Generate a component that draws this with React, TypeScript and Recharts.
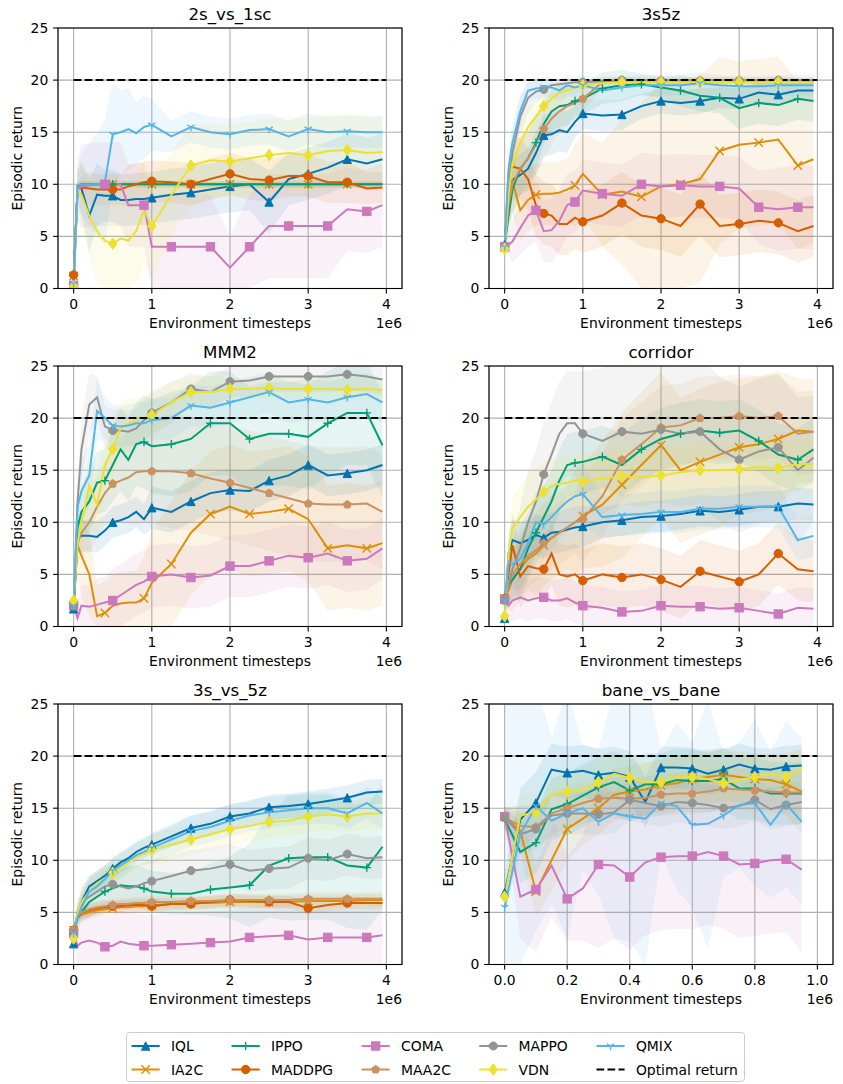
import React from 'react';
import { ComposedChart, Line, Area, XAxis, YAxis, CartesianGrid, ReferenceLine } from 'recharts';

const FONT = "'DejaVu Sans', sans-serif";

const COLORS: Record<string, string> = {
  IQL: '#0173b2', IA2C: '#de8f05', IPPO: '#029e73', MADDPG: '#d55e00', COMA: '#cc78bc',
  MAA2C: '#ca9161', MAPPO: '#949494', VDN: '#ece133', QMIX: '#56b4e9',
};
const SHAPES: Record<string, string> = {
  IQL: 'tri', IA2C: 'x', IPPO: 'plus', MADDPG: 'circle', COMA: 'square',
  MAA2C: 'pentagon', MAPPO: 'octagon', VDN: 'diamond', QMIX: 'tridown',
};

// x grids (timesteps, in units of 1e6)
const X_LONG = [0, 0.05, 0.1, 0.2, 0.3, 0.4, 0.5, 0.6, 0.7, 0.8, 0.9, 1, 1.25, 1.5, 1.75, 2, 2.25, 2.5, 2.75, 3, 3.25, 3.5, 3.75, 3.95];
const X_SHORT = [0, 0.05, 0.1, 0.15, 0.2, 0.25, 0.3, 0.35, 0.4, 0.45, 0.5, 0.55, 0.6, 0.65, 0.7, 0.75, 0.8, 0.85, 0.9, 0.95];
const TICKS_LONG = [0, 1, 2, 3, 4];
const TICKS_SHORT = [0, 0.2, 0.4, 0.6, 0.8, 1.0];
const Y_TICKS = [0, 5, 10, 15, 20, 25];
const OPTIMAL = 20;
const MARKS_HALF = [0, 0.5, 1, 1.5, 2, 2.5, 3, 3.5];
const MARKS_ALT = [0, 0.4, 0.9, 1.25, 1.75, 2.25, 2.75, 3.25, 3.75];
const MARKS_TENTH = [0, 0.1, 0.2, 0.3, 0.4, 0.5, 0.6, 0.7, 0.8, 0.9];

// ---------- 2s_vs_1sc ----------
const a_IQL = [0.3, 9.8, 9.6, 7.0, 9.0, 8.9, 8.9, 8.5, 8.5, 8.6, 8.6, 8.7, 9.0, 9.2, 9.5, 9.8, 10.0, 8.3, 10.5, 11.0, 11.6, 12.4, 12.0, 12.4];
const a_IQL_sd = [0.5, 1.5, 2.5, 3.5, 3, 2.5, 2.5, 2.5, 2.5, 2.5, 2.5, 2.5, 2.5, 2.5, 2.5, 2.5, 2.5, 3, 2.5, 2.5, 2.5, 2.5, 2.5, 2.5];
const a_IA2C = [1.2, 9.5, 10, 10, 10, 10, 10, 10, 10, 10, 10, 10, 10, 10, 10, 10, 10, 10, 10, 10, 10, 10, 10, 10];
const a_IA2C_sd = [0.5, 0.5, 0.3, 0.3, 0.3, 0.3, 0.3, 0.3, 0.3, 0.3, 0.3, 0.3, 0.3, 0.3, 0.3, 0.3, 0.3, 0.3, 0.3, 0.3, 0.3, 0.3, 0.3, 0.3];
const a_IPPO = [0.5, 9.8, 10, 10, 10, 10, 10, 10, 10, 10, 10, 10, 10, 10, 10, 10, 10, 10, 10, 10, 10, 10, 10, 10];
const a_IPPO_sd = [0.5, 0.5, 0.3, 0.3, 0.3, 0.3, 0.3, 0.3, 0.3, 0.3, 0.3, 0.3, 0.3, 0.3, 0.3, 0.3, 0.3, 0.3, 0.3, 0.3, 0.3, 0.3, 0.3, 0.3];
const a_MADDPG = [1.3, 9.6, 9.7, 9.6, 9.5, 9.5, 9.5, 9.5, 9.8, 10.0, 10.2, 10.3, 10.2, 10.0, 10.5, 11.0, 10.5, 10.4, 10.8, 10.8, 10.2, 10.2, 9.6, 9.7];
const a_MADDPG_sd = [0.5, 0.5, 1, 1.5, 1.5, 1.5, 1.5, 1.5, 2, 2, 2, 2, 2, 2, 2, 2, 2, 2, 2, 2, 2, 2, 1.5, 1.5];
const a_COMA = [0.3, 9.5, 9.8, 9.9, 10, 10, 10, 10, 8.0, 8.0, 8.0, 4.0, 4.0, 4.0, 4.0, 2.0, 4.0, 6.0, 6.0, 6.0, 6.0, 7.6, 7.4, 8.0];
const a_COMA_sd = [0.5, 3, 4, 4, 4, 4, 4, 4, 4, 4, 4, 5, 5, 5, 5, 3, 5, 5, 5, 5, 5, 4, 4, 4];
const a_VDN = [0.2, 9.5, 9.0, 7.0, 5.5, 4.6, 4.3, 4.8, 4.6, 5.5, 7.5, 6.0, 9.0, 11.8, 12.3, 12.2, 12.5, 12.8, 13.0, 12.8, 13.2, 13.3, 13.0, 13.1];
const a_VDN_sd = [0.5, 2, 3, 4, 5, 5, 5, 5, 5, 5, 5, 5, 4, 4, 3.5, 3.5, 3.5, 3.5, 3.5, 3.5, 3.5, 3.5, 3.5, 3.5];
const a_QMIX = [0.5, 9.8, 10, 10, 10, 10.2, 14.8, 15.0, 15.3, 14.9, 15.5, 15.7, 14.6, 15.5, 15.0, 14.8, 15.2, 15.3, 14.6, 15.3, 15.0, 15.1, 15.0, 15.0];
const a_QMIX_sd = [0.5, 2, 3, 4, 5, 6, 5, 4, 4, 3, 3, 2.5, 1.5, 1.5, 1.5, 1.5, 1.5, 1.5, 1.5, 1.5, 1.5, 1.5, 1.5, 1.5];

// ---------- 3s5z ----------
const b_IQL = [4.2, 9.5, 10.4, 10.9, 11.5, 13.0, 14.7, 14.8, 15.2, 15.0, 16.0, 16.8, 16.6, 16.7, 17.5, 18.0, 17.8, 18.0, 18.3, 18.2, 18.8, 18.6, 19.0, 19.0];
const b_IQL_sd = [0.3, 1.5, 2, 2, 2, 2, 2, 2, 2, 2, 1.5, 1.5, 1.5, 1.5, 1.2, 1.2, 1.2, 1.2, 1, 1, 1, 1, 1, 1];
const b_IA2C = [4.0, 9.0, 10.3, 7.5, 8.5, 9.0, 9.1, 9.1, 9.2, 9.5, 9.9, 11.0, 9.0, 9.3, 8.8, 9.8, 10.0, 10.5, 13.2, 13.8, 14.0, 14.3, 11.8, 12.4];
const b_IA2C_sd = [0.3, 3, 3, 3, 3, 3, 3, 3, 3, 3, 4, 4, 5, 7, 9, 10, 10, 10, 9, 8, 8, 8, 8, 8];
const b_IPPO = [4.1, 7.0, 9.5, 11.5, 12.5, 14.0, 15.8, 17.0, 17.5, 17.6, 18.0, 18.2, 19.2, 19.5, 19.6, 19.3, 19.0, 18.5, 18.3, 17.3, 17.8, 17.6, 18.2, 18.0];
const b_IPPO_sd = [0.3, 2, 2.5, 2.5, 2.5, 2.5, 2, 2, 2, 2, 1.5, 1.5, 1.5, 1.5, 1, 1, 1.5, 1.5, 1.5, 2, 2, 2, 2, 2];
const b_MADDPG = [4.0, 11.0, 11.7, 11.5, 10.5, 8.0, 7.2, 7.0, 6.2, 6.2, 6.8, 6.4, 7.0, 8.2, 7.0, 6.7, 6.0, 8.1, 6.0, 6.2, 6.5, 6.3, 5.5, 6.0];
const b_MADDPG_sd = [0.3, 2, 2.5, 3, 3, 3, 3, 3, 3, 3, 3, 3, 3, 3, 3, 3, 3, 3, 3, 3, 3, 3, 3, 3];
const b_COMA = [4.0, 4.2, 4.5, 5.8, 7.0, 7.5, 5.5, 5.6, 6.5, 8.0, 8.3, 9.4, 9.1, 8.9, 10.0, 9.8, 9.9, 9.8, 9.8, 9.6, 7.8, 7.6, 7.8, 7.8];
const b_COMA_sd = [0.3, 1, 2, 2.5, 3, 3, 3, 3, 3, 3, 3, 3, 3, 3, 3, 3, 3, 3, 3, 3, 3.5, 4, 4, 4];
const b_MAA2C = [4.0, 8.0, 10.0, 11.5, 12.5, 13.8, 15.3, 16.3, 17.0, 17.5, 17.8, 18.2, 19.8, 20.0, 20.0, 20.0, 20.0, 20.0, 20.0, 20.0, 20.0, 20.0, 20.0, 20.0];
const b_MAA2C_sd = [0.3, 2, 2.5, 3, 3, 3, 3, 2.5, 2, 2, 1.5, 1.2, 0.6, 0.3, 0.3, 0.3, 0.3, 0.3, 0.3, 0.3, 0.3, 0.3, 0.3, 0.3];
const b_MAPPO = [4.0, 10.0, 13.0, 16.5, 18.3, 18.9, 19.1, 19.5, 19.6, 19.7, 19.8, 19.8, 19.9, 20.0, 19.9, 19.9, 19.9, 19.9, 20.0, 19.9, 19.9, 20.0, 19.9, 19.9];
const b_MAPPO_sd = [0.3, 2, 2, 2, 1.5, 1, 0.8, 0.6, 0.5, 0.4, 0.3, 0.3, 0.3, 0.3, 0.3, 0.3, 0.3, 0.3, 0.3, 0.3, 0.3, 0.3, 0.3, 0.3];
const b_VDN = [3.8, 9.0, 12.0, 14.0, 15.5, 16.5, 17.5, 18.2, 18.8, 19.0, 19.3, 19.5, 19.7, 19.8, 19.8, 19.8, 19.8, 19.8, 19.8, 19.8, 19.8, 19.8, 19.8, 19.8];
const b_VDN_sd = [0.3, 2, 2, 2, 2, 1.5, 1.2, 1, 0.8, 0.6, 0.5, 0.4, 0.3, 0.3, 0.3, 0.3, 0.3, 0.3, 0.3, 0.3, 0.3, 0.3, 0.3, 0.3];
const b_QMIX = [4.0, 11.5, 14.0, 17.0, 19.0, 19.2, 19.3, 19.3, 19.0, 19.5, 19.3, 19.5, 19.0, 19.3, 19.5, 19.5, 19.5, 19.7, 19.5, 19.4, 19.4, 19.5, 19.5, 19.5];
const b_QMIX_sd = [0.3, 2, 2, 1.5, 1, 1, 1, 1, 1, 1, 1, 1, 1, 1, 1, 1, 1, 1, 1, 1, 1, 1, 1, 1];

// ---------- MMM2 ----------
const c_IQL = [1.7, 8.5, 8.7, 8.7, 8.6, 9.2, 10.0, 10.2, 10.5, 11.0, 10.3, 11.4, 11.0, 12.0, 12.8, 13.1, 13.0, 14.0, 14.5, 15.5, 14.5, 14.7, 15.0, 15.5];
const c_IQL_sd = [0.3, 1.5, 1.5, 1.5, 1.5, 1.5, 1.5, 1.5, 1.5, 1.5, 1.5, 2, 2, 2, 2, 2, 2, 2, 2, 2, 2, 2, 2, 2];
const c_IA2C = [2.0, 7.8, 6.8, 5.0, 1.0, 1.3, 2.0, 2.2, 2.3, 2.3, 2.7, 4.2, 6.0, 9.0, 10.8, 11.5, 10.8, 11.0, 11.3, 10.3, 7.5, 7.8, 7.5, 8.0];
const c_IA2C_sd = [0.5, 3, 4, 4, 3, 3, 3, 3, 3, 3, 4, 5, 6, 6, 6, 6, 6, 6, 6, 6, 6, 6, 6, 6];
const c_IPPO = [1.8, 9.5, 11.0, 12.0, 13.8, 14.0, 15.5, 17.0, 16.0, 17.5, 17.7, 17.3, 17.5, 18.0, 19.5, 19.5, 18.0, 18.5, 18.5, 18.2, 19.5, 20.5, 20.5, 17.4];
const c_IPPO_sd = [0.3, 2, 2.5, 3, 3, 3, 3.5, 4, 4, 4, 4.5, 4.5, 5, 5, 5, 5, 5, 5, 5, 5, 5, 5, 5, 5];
const c_COMA = [2.0, 0.8, 2.0, 1.9, 2.1, 2.3, 2.5, 3.0, 3.5, 4.0, 4.3, 4.8, 5.0, 4.7, 4.9, 5.8, 5.8, 6.3, 6.8, 6.6, 7.0, 6.3, 6.5, 7.5];
const c_COMA_sd = [0.5, 1.5, 2, 2, 2.5, 2.5, 3, 3, 3, 3, 3, 3, 3, 3, 3, 3, 3, 3, 3, 3, 3, 3, 3, 3];
const c_MAA2C = [2.0, 8.0, 9.0, 10.0, 11.5, 12.8, 13.7, 14.0, 14.3, 14.8, 14.9, 14.9, 14.9, 14.7, 14.2, 13.8, 13.3, 12.8, 12.3, 11.8, 11.7, 11.7, 11.8, 11.0];
const c_MAA2C_sd = [0.3, 2, 2, 3, 3, 3, 3.5, 4, 4.5, 5, 5, 5, 5.5, 5.5, 5.5, 5.5, 5.5, 5.5, 5.5, 5.5, 5.5, 5.5, 5.5, 5.5];
const c_MAPPO = [2.0, 12.0, 17.0, 21.3, 22.0, 19.2, 18.8, 18.8, 18.7, 19.0, 19.8, 20.5, 21.5, 22.8, 22.5, 23.5, 23.6, 24.0, 24.0, 24.0, 24.0, 24.2, 24.0, 23.7];
const c_MAPPO_sd = [0.3, 2, 3, 3, 2, 2, 2, 2, 2, 2, 2, 2, 2, 1.5, 1.5, 1.5, 1.5, 1.5, 1.5, 1.5, 1.5, 1.5, 1.5, 1.5];
const c_VDN = [2.5, 8.0, 10.0, 13.5, 11.7, 15.5, 17.0, 19.0, 19.5, 19.8, 20.0, 20.3, 21.5, 22.5, 22.5, 22.8, 22.8, 22.9, 22.8, 22.8, 22.8, 22.7, 22.8, 22.7];
const c_VDN_sd = [0.3, 2, 3, 3, 3, 3, 3, 2.5, 2.5, 2, 2, 2, 2, 1.5, 1.5, 1, 1, 1, 1, 1, 1, 1, 1, 1];
const c_QMIX = [2.0, 11.5, 13.0, 14.5, 20.7, 20.0, 19.3, 19.2, 19.3, 19.5, 19.5, 19.8, 20.0, 21.2, 21.0, 21.5, 22.0, 22.5, 21.5, 21.8, 21.5, 22.0, 22.3, 21.5];
const c_QMIX_sd = [0.3, 2, 3, 3, 3, 2, 2, 2, 2, 2, 2, 2, 2, 2, 2, 2, 2, 2, 2, 2, 2, 2, 2, 2];

// ---------- corridor ----------
const d_IQL = [0.8, 7.0, 8.3, 8.0, 8.3, 8.8, 8.5, 9.0, 9.1, 9.3, 9.5, 9.6, 10.0, 10.2, 10.5, 10.6, 10.8, 11.1, 11.0, 11.2, 11.5, 11.5, 11.8, 11.7];
const d_IQL_sd = [0.3, 2, 2, 2, 2, 2, 2, 2, 2, 2, 2, 2, 1.5, 1.5, 1.5, 1.5, 1.5, 1.5, 1.5, 1.5, 1.5, 1.5, 1.5, 1.5];
const d_IA2C = [2.7, 3.5, 4.5, 5.5, 6.5, 7.0, 7.8, 8.5, 9.0, 9.5, 10.0, 10.6, 11.7, 13.6, 15.5, 17.4, 15.0, 15.8, 16.5, 17.2, 17.5, 18.0, 18.8, 18.7];
const d_IA2C_sd = [0.5, 2, 3, 3, 3, 4, 4, 4, 4, 4, 5, 5, 6, 7, 7, 7, 7, 7, 7, 6.5, 6.5, 6.5, 5, 5];
const d_IPPO = [2.5, 4.0, 4.5, 5.5, 7.5, 9.0, 10.5, 12.0, 14.0, 15.5, 15.7, 15.8, 16.3, 15.5, 17.0, 18.0, 18.5, 18.8, 18.6, 18.8, 17.8, 16.5, 16.0, 17.0];
const d_IPPO_sd = [0.3, 2, 2, 3, 3, 3, 3, 3, 3, 3, 3, 3, 3, 3, 3, 3, 3, 3, 3, 3, 3, 3, 3, 3];
const d_MADDPG = [2.7, 5.0, 7.8, 4.8, 5.8, 5.6, 5.5, 7.0, 5.0, 4.8, 5.0, 4.4, 5.0, 4.7, 5.0, 4.5, 3.8, 5.3, 4.8, 4.3, 5.0, 7.0, 5.5, 5.3];
const d_MADDPG_sd = [0.3, 2, 3, 3, 3, 3, 3, 3, 3, 3, 3, 3, 3, 3, 3, 3, 3, 3, 3, 3, 3, 3, 3, 3];
const d_COMA = [2.6, 2.0, 2.5, 2.8, 2.5, 2.7, 2.8, 2.5, 2.5, 2.7, 2.3, 2.0, 1.8, 1.4, 1.5, 2.0, 1.9, 1.9, 1.7, 1.8, 1.5, 1.2, 1.8, 1.7];
const d_COMA_sd = [0.3, 1.5, 2, 2, 2, 2, 2, 2, 2, 2, 2, 2, 2, 2, 2, 2, 2, 2, 2, 2, 2, 2, 2, 2];
const d_MAA2C = [2.6, 4.0, 5.0, 6.0, 6.8, 7.3, 8.0, 8.5, 9.0, 9.5, 10.0, 10.3, 12.5, 16.0, 17.5, 19.1, 19.3, 20.0, 20.0, 20.2, 20.0, 20.2, 18.5, 18.7];
const d_MAA2C_sd = [0.3, 2, 2, 3, 3, 3, 3, 3, 3, 3, 3, 4, 4, 4, 4, 4, 4, 4, 4, 4, 4, 4, 4, 4];
const d_MAPPO = [2.5, 4.0, 5.5, 7.5, 10.0, 12.0, 14.6, 16.5, 18.5, 19.5, 19.5, 18.5, 17.8, 18.7, 18.5, 18.9, 18.5, 18.7, 17.0, 16.0, 16.8, 17.2, 15.0, 16.2];
const d_MAPPO_sd = [0.3, 2, 3, 4, 5, 5, 5, 5, 5, 5, 5, 6, 7, 7, 7, 7, 7, 7, 7, 7, 7, 7, 7, 6];
const d_VDN = [1.0, 7.0, 9.5, 10.5, 11.5, 12.2, 12.9, 13.5, 13.7, 13.8, 14.0, 13.9, 14.2, 14.4, 14.3, 14.5, 14.8, 15.0, 15.0, 15.1, 15.3, 15.2, 15.6, 15.6];
const d_VDN_sd = [0.3, 2, 3, 3, 3, 3, 3, 2.5, 2.5, 2.5, 2.5, 2.5, 2.5, 2.5, 2.5, 2.5, 2.5, 2.5, 2.5, 2.5, 2.5, 2.5, 2.5, 2.5];
const d_QMIX = [2.5, 6.2, 6.0, 6.5, 8.0, 10.0, 9.8, 10.5, 11.3, 12.0, 12.5, 12.7, 10.5, 10.7, 10.8, 11.0, 11.0, 11.3, 11.3, 11.5, 11.5, 11.5, 8.3, 8.7];
const d_QMIX_sd = [0.3, 2, 2.5, 3, 3, 3, 3, 3, 3, 3, 3, 3, 2, 2, 2, 2, 2, 2, 2, 2, 2, 2, 2, 2];

// ---------- 3s_vs_5z ----------
const e_IQL = [2.0, 5.0, 6.0, 7.5, 8.0, 8.5, 9.2, 9.8, 10.2, 10.8, 11.2, 11.5, 12.3, 13.1, 13.5, 14.2, 14.5, 15.1, 15.2, 15.4, 15.7, 16.0, 16.5, 16.6];
const e_IQL_sd = [0.3, 1, 1, 1, 1, 1, 1, 1, 1, 1, 1, 1, 1, 1.2, 1.2, 1.2, 1.2, 1.2, 1.2, 1.2, 1.2, 1.2, 1.2, 1.2];
const e_IA2C = [3.3, 4.5, 4.8, 5.0, 5.2, 5.3, 5.4, 5.5, 5.5, 5.6, 5.6, 5.7, 5.8, 5.9, 5.9, 6.0, 6.0, 6.0, 6.0, 6.1, 6.1, 6.1, 6.2, 6.2];
const e_IA2C_sd = [0.3, 0.5, 0.6, 0.6, 0.6, 0.6, 0.6, 0.6, 0.6, 0.6, 0.6, 0.6, 0.6, 0.6, 0.6, 0.6, 0.6, 0.6, 0.6, 0.6, 0.6, 0.6, 0.6, 0.6];
const e_IPPO = [3.2, 4.5, 5.0, 6.0, 6.5, 7.0, 7.3, 7.6, 7.5, 7.5, 7.3, 7.0, 6.8, 6.8, 7.2, 7.4, 7.6, 9.5, 10.2, 10.3, 10.3, 9.5, 9.3, 11.3];
const e_IPPO_sd = [0.3, 1, 1, 1.5, 1.5, 2, 2, 2, 2, 2, 2, 2, 2, 2, 2.5, 3, 4, 5, 6, 6, 6, 6, 6, 6];
const e_MADDPG = [3.3, 4.5, 5.0, 5.2, 5.4, 5.5, 5.6, 5.6, 5.7, 5.7, 5.7, 5.6, 5.8, 5.8, 6.0, 6.2, 6.1, 6.0, 6.0, 5.4, 5.7, 5.9, 5.9, 5.9];
const e_MADDPG_sd = [0.3, 0.5, 0.6, 0.6, 0.6, 0.6, 0.6, 0.6, 0.6, 0.6, 0.6, 0.6, 0.6, 0.6, 0.6, 0.6, 0.6, 0.6, 0.6, 0.6, 0.6, 0.6, 0.6, 0.6];
const e_COMA = [3.0, 1.8, 2.1, 2.3, 2.1, 1.7, 1.8, 2.2, 2.0, 1.9, 1.8, 1.8, 1.9, 2.0, 2.1, 2.2, 2.6, 2.7, 2.8, 2.4, 2.6, 2.6, 2.6, 2.8];
const e_COMA_sd = [0.5, 2, 3, 3, 3, 3, 3, 3, 3, 3, 3, 3, 3, 3, 3, 3, 3, 3, 3, 3, 3, 3, 3, 3];
const e_MAA2C = [3.3, 4.7, 5.0, 5.3, 5.5, 5.6, 5.7, 5.8, 5.8, 5.9, 5.9, 6.0, 6.0, 6.1, 6.1, 6.2, 6.2, 6.2, 6.2, 6.3, 6.3, 6.3, 6.3, 6.3];
const e_MAA2C_sd = [0.3, 0.5, 0.6, 0.6, 0.6, 0.6, 0.6, 0.6, 0.6, 0.6, 0.6, 0.6, 0.6, 0.6, 0.6, 0.6, 0.6, 0.6, 0.6, 0.6, 0.6, 0.6, 0.6, 0.6];
const e_MAPPO = [3.0, 5.0, 6.0, 6.5, 7.0, 7.5, 7.7, 7.5, 7.3, 7.5, 7.8, 8.0, 8.5, 9.0, 9.2, 9.6, 9.0, 9.2, 9.3, 10.2, 10.0, 10.6, 10.2, 10.3];
const e_MAPPO_sd = [0.3, 1, 1.5, 2, 2, 2, 2, 2, 2, 2, 2, 2, 2, 2, 2, 2, 2, 2, 2, 2, 2, 2, 2, 2];
const e_VDN = [2.5, 5.0, 6.0, 7.0, 7.8, 8.3, 8.8, 9.3, 9.8, 10.3, 10.6, 11.0, 11.5, 12.0, 12.5, 13.0, 13.3, 13.7, 13.8, 14.2, 14.4, 14.2, 14.5, 14.5];
const e_VDN_sd = [0.3, 1, 1.2, 1.2, 1.2, 1.2, 1.2, 1.2, 1.2, 1.2, 1.2, 1.5, 1.5, 1.5, 1.5, 1.5, 1.5, 1.5, 1.5, 1.5, 1.5, 1.5, 1.5, 1.5];
const e_QMIX = [3.0, 4.5, 5.5, 7.0, 7.5, 8.2, 9.0, 9.5, 10.0, 10.5, 10.8, 11.2, 12.0, 12.8, 13.2, 13.8, 14.3, 14.6, 14.8, 15.0, 15.0, 14.5, 15.5, 14.5];
const e_QMIX_sd = [0.3, 1, 1.2, 1.2, 1.2, 1.2, 1.2, 1.2, 1.2, 1.2, 1.2, 1.5, 1.5, 1.5, 1.5, 1.5, 1.5, 1.5, 1.5, 1.5, 1.5, 1.5, 1.5, 1.5];

// ---------- bane_vs_bane ----------
const f_IQL = [6.9, 13.9, 15.5, 18.7, 18.4, 18.6, 18.2, 18.4, 18.0, 15.6, 18.9, 18.9, 18.8, 18.3, 18.7, 19.2, 18.8, 18.7, 19.0, 19.1];
const f_IQL_sd = [2, 3, 3, 2.5, 2.5, 2.5, 2.5, 2.5, 2.5, 2.5, 2, 2, 2, 2, 2, 2, 2, 2, 2, 2];
const f_IA2C = [14.2, 12.8, 7.0, 10.0, 13.0, 14.0, 15.0, 16.3, 16.6, 16.8, 17.2, 17.4, 17.8, 18.0, 18.2, 18.0, 17.8, 17.7, 17.3, 16.6];
const f_IA2C_sd = [1, 2, 2.5, 3, 3, 2.5, 2.5, 2.5, 2.5, 2.5, 2.5, 2.5, 2.5, 2.5, 2.5, 2.5, 2.5, 2.5, 3, 4];
const f_IPPO = [14.0, 10.8, 11.7, 14.9, 15.4, 16.2, 17.0, 17.5, 16.7, 17.3, 17.3, 17.7, 17.6, 17.6, 17.8, 16.9, 16.9, 16.4, 16.4, 16.4];
const f_IPPO_sd = [1, 3, 3, 3, 3, 3, 3, 3, 3, 3, 3, 3, 3, 3, 3, 3, 3, 3, 3, 3];
const f_COMA = [14.2, 6.5, 7.2, 9.5, 6.3, 7.3, 9.6, 9.5, 8.4, 9.8, 10.3, 10.4, 10.4, 10.8, 10.4, 9.6, 9.7, 10.0, 10.1, 9.1];
const f_COMA_sd = [1, 4, 6, 5, 4, 5, 8, 7, 7, 7, 7, 7, 7, 7, 7, 7, 7, 7, 7, 8];
const f_MAA2C = [14.1, 13.3, 13.2, 14.5, 15.0, 15.5, 15.9, 16.0, 15.9, 16.0, 16.3, 16.4, 16.4, 16.6, 16.9, 16.8, 16.7, 16.6, 16.5, 16.5];
const f_MAA2C_sd = [1, 2, 2, 2, 2, 2, 2, 2, 2, 2, 2, 2, 2, 2, 2, 2, 2, 2, 2, 2];
const f_MAPPO = [14.1, 12.5, 13.0, 14.3, 14.5, 14.5, 14.4, 14.6, 15.8, 15.5, 15.2, 15.6, 15.5, 15.3, 15.0, 15.2, 15.8, 14.9, 15.3, 15.6];
const f_MAPPO_sd = [1, 2, 2, 2, 2, 2, 2, 2, 2, 2, 2, 2, 2, 2, 2, 2, 2, 2, 2, 2];
const f_VDN = [6.5, 14.3, 14.6, 16.3, 16.6, 16.8, 17.5, 18.3, 17.9, 17.5, 17.5, 18.0, 18.0, 17.8, 17.4, 17.7, 18.0, 18.3, 18.0, 18.8];
const f_VDN_sd = [1, 2, 2, 2, 2, 2, 2, 2, 2, 2, 2, 2, 2, 2, 2, 2, 2, 2, 2, 2];
const f_QMIX = [5.5, 12.5, 15.2, 13.8, 14.5, 15.0, 13.7, 14.5, 14.2, 14.0, 15.5, 15.2, 13.4, 13.5, 14.3, 15.3, 15.5, 13.4, 15.4, 13.7];
const f_QMIX_sd = [20, 13, 12, 8, 12, 6, 7, 12, 12, 14, 5, 8, 8, 12, 6, 6, 8, 7, 8, 8];

type S = [string, number[], number[]];
interface PanelCfg {
  title: string; col: number; row: number; xs: number[]; xDomain: [number, number];
  xTicks: number[]; fmt: (v: number) => string; optEnd: number;
  series: S[]; marks: number[]; alt: string[];
}

const fmtInt = (v: number) => String(v);
const fmt1 = (v: number) => v.toFixed(1);

const PANELS: PanelCfg[] = [
  {
    title: '2s_vs_1sc', col: 0, row: 0, xs: X_LONG, xDomain: [-0.2, 4.2], xTicks: TICKS_LONG, fmt: fmtInt, optEnd: 4,
    marks: MARKS_HALF, alt: ['COMA'],
    series: [['IQL', a_IQL, a_IQL_sd], ['IA2C', a_IA2C, a_IA2C_sd], ['IPPO', a_IPPO, a_IPPO_sd], ['MADDPG', a_MADDPG, a_MADDPG_sd],
      ['COMA', a_COMA, a_COMA_sd], ['VDN', a_VDN, a_VDN_sd], ['QMIX', a_QMIX, a_QMIX_sd]],
  },
  {
    title: '3s5z', col: 1, row: 0, xs: X_LONG, xDomain: [-0.2, 4.2], xTicks: TICKS_LONG, fmt: fmtInt, optEnd: 4,
    marks: MARKS_HALF, alt: ['IA2C', 'IPPO', 'COMA'],
    series: [['IQL', b_IQL, b_IQL_sd], ['IA2C', b_IA2C, b_IA2C_sd], ['IPPO', b_IPPO, b_IPPO_sd], ['MADDPG', b_MADDPG, b_MADDPG_sd],
      ['COMA', b_COMA, b_COMA_sd], ['MAA2C', b_MAA2C, b_MAA2C_sd], ['MAPPO', b_MAPPO, b_MAPPO_sd], ['VDN', b_VDN, b_VDN_sd], ['QMIX', b_QMIX, b_QMIX_sd]],
  },
  {
    title: 'MMM2', col: 0, row: 1, xs: X_LONG, xDomain: [-0.2, 4.2], xTicks: TICKS_LONG, fmt: fmtInt, optEnd: 4,
    marks: MARKS_HALF, alt: ['IA2C', 'IPPO'],
    series: [['IQL', c_IQL, c_IQL_sd], ['IA2C', c_IA2C, c_IA2C_sd], ['IPPO', c_IPPO, c_IPPO_sd],
      ['COMA', c_COMA, c_COMA_sd], ['MAA2C', c_MAA2C, c_MAA2C_sd], ['MAPPO', c_MAPPO, c_MAPPO_sd], ['VDN', c_VDN, c_VDN_sd], ['QMIX', c_QMIX, c_QMIX_sd]],
  },
  {
    title: 'corridor', col: 1, row: 1, xs: X_LONG, xDomain: [-0.2, 4.2], xTicks: TICKS_LONG, fmt: fmtInt, optEnd: 4,
    marks: MARKS_HALF, alt: ['IPPO'],
    series: [['IQL', d_IQL, d_IQL_sd], ['IA2C', d_IA2C, d_IA2C_sd], ['IPPO', d_IPPO, d_IPPO_sd], ['MADDPG', d_MADDPG, d_MADDPG_sd],
      ['COMA', d_COMA, d_COMA_sd], ['MAA2C', d_MAA2C, d_MAA2C_sd], ['MAPPO', d_MAPPO, d_MAPPO_sd], ['VDN', d_VDN, d_VDN_sd], ['QMIX', d_QMIX, d_QMIX_sd]],
  },
  {
    title: '3s_vs_5z', col: 0, row: 2, xs: X_LONG, xDomain: [-0.2, 4.2], xTicks: TICKS_LONG, fmt: fmtInt, optEnd: 4,
    marks: MARKS_HALF, alt: ['IPPO', 'COMA'],
    series: [['IQL', e_IQL, e_IQL_sd], ['IA2C', e_IA2C, e_IA2C_sd], ['IPPO', e_IPPO, e_IPPO_sd], ['MADDPG', e_MADDPG, e_MADDPG_sd],
      ['COMA', e_COMA, e_COMA_sd], ['MAA2C', e_MAA2C, e_MAA2C_sd], ['MAPPO', e_MAPPO, e_MAPPO_sd], ['VDN', e_VDN, e_VDN_sd], ['QMIX', e_QMIX, e_QMIX_sd]],
  },
  {
    title: 'bane_vs_bane', col: 1, row: 2, xs: X_SHORT, xDomain: [-0.05, 1.05], xTicks: TICKS_SHORT, fmt: fmt1, optEnd: 1,
    marks: MARKS_TENTH, alt: [],
    series: [['IQL', f_IQL, f_IQL_sd], ['IA2C', f_IA2C, f_IA2C_sd], ['IPPO', f_IPPO, f_IPPO_sd],
      ['COMA', f_COMA, f_COMA_sd], ['MAA2C', f_MAA2C, f_MAA2C_sd], ['MAPPO', f_MAPPO, f_MAPPO_sd], ['VDN', f_VDN, f_VDN_sd], ['QMIX', f_QMIX, f_QMIX_sd]],
  },
];

const COL_LEFT = [58, 489];
const ROW_TOP = [28, 366, 704];
const PLOT_W = 344;
const PLOT_H = 260.5;

function poly(n: number, r: number, cx: number, cy: number) {
  const pts: string[] = [];
  for (let k = 0; k < n; k++) {
    const a = (-90 + (360 / n) * k) * Math.PI / 180 + (n === 8 ? Math.PI / 8 : 0);
    pts.push(`${cx + r * Math.cos(a)},${cy + r * Math.sin(a)}`);
  }
  return pts.join(' ');
}

function Marker({ shape, color, cx, cy }: { shape: string; color: string; cx: number; cy: number }) {
  const r = 4.2;
  const common = { fill: color, stroke: color, strokeWidth: 1 };
  switch (shape) {
    case 'tri':
      return <polygon points={`${cx},${cy - r} ${cx - r},${cy + r} ${cx + r},${cy + r}`} {...common} />;
    case 'x':
      return (
        <g stroke={color} strokeWidth={1.4}>
          <line x1={cx - r} y1={cy - r} x2={cx + r} y2={cy + r} />
          <line x1={cx - r} y1={cy + r} x2={cx + r} y2={cy - r} />
        </g>
      );
    case 'plus':
      return (
        <g stroke={color} strokeWidth={1.4}>
          <line x1={cx - r} y1={cy} x2={cx + r} y2={cy} />
          <line x1={cx} y1={cy - r} x2={cx} y2={cy + r} />
        </g>
      );
    case 'circle':
      return <circle cx={cx} cy={cy} r={r} {...common} />;
    case 'square':
      return <rect x={cx - r} y={cy - r} width={2 * r} height={2 * r} {...common} />;
    case 'pentagon':
      return <polygon points={poly(5, r, cx, cy)} {...common} />;
    case 'octagon':
      return <polygon points={poly(8, r, cx, cy)} {...common} />;
    case 'diamond':
      return <polygon points={`${cx},${cy - 5.8} ${cx + 4.2},${cy} ${cx},${cy + 5.8} ${cx - 4.2},${cy}`} {...common} />;
    case 'tridown':
      return (
        <g stroke={color} strokeWidth={1.4}>
          <line x1={cx} y1={cy} x2={cx} y2={cy + r} />
          <line x1={cx} y1={cy} x2={cx - 0.866 * r} y2={cy - 0.5 * r} />
          <line x1={cx} y1={cy} x2={cx + 0.866 * r} y2={cy - 0.5 * r} />
        </g>
      );
    default:
      return <g />;
  }
}

function makeDot(name: string, marks: number[]) {
  return (p: any) => {
    const { cx, cy, payload, index } = p;
    if (cx == null || cy == null || !payload || !marks.includes(payload.x)) return <g key={`d${index}`} />;
    return (
      <g key={`d${index}`}>
        <Marker shape={SHAPES[name]} color={COLORS[name]} cx={cx} cy={cy} />
      </g>
    );
  };
}

function Panel({ cfg }: { cfg: PanelCfg }) {
  const plotLeft = COL_LEFT[cfg.col];
  const plotTop = ROW_TOP[cfg.row];
  const width = cfg.col === 0 ? 420 : 412;
  const height = 330;
  const data = cfg.xs.map((x, i) => {
    const row: Record<string, any> = { x };
    cfg.series.forEach(([name, m, sd]) => {
      row[name] = m[i];
      row[name + '_band'] = [Math.max(0, m[i] - sd[i]), m[i] + sd[i]];
    });
    return row;
  });
  const tickStyle = { fill: '#000', fontSize: 13.9, fontFamily: FONT };
  const tickLine = { stroke: '#000', strokeWidth: 1.1 };
  return (
    <div style={{ position: 'absolute', left: plotLeft - 58, top: plotTop - 28 }}>
      <ComposedChart
        width={width}
        height={height}
        data={data}
        margin={{ top: 28, right: width - 58 - PLOT_W, bottom: height - 28 - PLOT_H - 30, left: 18 }}
      >
        <CartesianGrid stroke="#b0b0b0" strokeWidth={1.1} />
        <XAxis
          dataKey="x" type="number" domain={cfg.xDomain} ticks={cfg.xTicks} interval={0} allowDataOverflow
          height={30} tickSize={4.9} tickMargin={6} axisLine={false} tickLine={tickLine} tick={tickStyle}
          tickFormatter={cfg.fmt}
        />
        <YAxis
          type="number" domain={[0, 25]} ticks={Y_TICKS} interval={0} allowDataOverflow width={40}
          tickSize={4.9} tickMargin={4.8} axisLine={false} tickLine={tickLine} tick={tickStyle}
        />
        {cfg.series.map(([name]) => (
          <Area
            key={'a' + name} dataKey={name + '_band'} type="linear" stroke="none" fill={COLORS[name]}
            fillOpacity={0.1} isAnimationActive={false} dot={false} activeDot={false}
          />
        ))}
        {cfg.series.map(([name]) => (
          <Line
            key={'l' + name} dataKey={name} type="linear" stroke={COLORS[name]} strokeWidth={2}
            dot={makeDot(name, cfg.alt.includes(name) ? MARKS_ALT : cfg.marks)} activeDot={false}
            isAnimationActive={false}
          />
        ))}
        <ReferenceLine
          segment={[{ x: 0, y: OPTIMAL }, { x: cfg.optEnd, y: OPTIMAL }]}
          stroke="#000" strokeWidth={2} strokeDasharray="7.7 3.3"
        />
      </ComposedChart>
    </div>
  );
}

const LEGEND_COLS: [string, string][] = [
  ['IQL', 'IA2C'], ['IPPO', 'MADDPG'], ['COMA', 'MAA2C'], ['MAPPO', 'VDN'], ['QMIX', 'Optimal return'],
];
const LEG_TEXT_X = [171, 271, 401, 518.6, 635.9];
const LEG_ROW_Y = [1046, 1069.5];

function Overlay() {
  return (
    <svg width={843} height={1084} style={{ position: 'absolute', left: 0, top: 0, pointerEvents: 'none' }} fontFamily={FONT}>
      {PANELS.map((p) => {
        const l = COL_LEFT[p.col];
        const t = ROW_TOP[p.row];
        return (
          <g key={p.title}>
            <rect x={l} y={t} width={PLOT_W} height={PLOT_H} fill="none" stroke="#000" strokeWidth={1.1} />
            <text x={l + PLOT_W / 2} y={t - 8.5} textAnchor="middle" fontSize={16.7} fill="#000">{p.title}</text>
            <text x={l + PLOT_W / 2} y={t + PLOT_H + 39.5} textAnchor="middle" fontSize={13.9} fill="#000">Environment timesteps</text>
            <text x={l + PLOT_W} y={t + PLOT_H + 39} textAnchor="end" fontSize={13.9} fill="#000">1e6</text>
            <text transform={`translate(${l - 36}, ${t + PLOT_H / 2}) rotate(-90)`} textAnchor="middle" fontSize={13.9} fill="#000">Episodic return</text>
          </g>
        );
      })}
      <rect x={126.5} y={1032.5} width={618} height={49} rx={3} fill="#fff" fillOpacity={0.8} stroke="#cccccc" strokeWidth={1} />
      {LEGEND_COLS.map((pair, ci) =>
        pair.map((name, ri) => {
          const tx = LEG_TEXT_X[ci];
          const y = LEG_ROW_Y[ri];
          const x0 = tx - 39.4;
          const x1 = tx - 11.3;
          const isOpt = name === 'Optimal return';
          return (
            <g key={name}>
              {isOpt ? (
                <line x1={x0} y1={y} x2={x1} y2={y} stroke="#000" strokeWidth={2} strokeDasharray="7.7 3.3" />
              ) : (
                <g>
                  <line x1={x0} y1={y} x2={x1} y2={y} stroke={COLORS[name]} strokeWidth={2} />
                  <Marker shape={SHAPES[name]} color={COLORS[name]} cx={(x0 + x1) / 2} cy={y} />
                </g>
              )}
              <text x={tx} y={y + 5} fontSize={13.9} fill="#000">{name}</text>
            </g>
          );
        })
      )}
    </svg>
  );
}

export default function App() {
  return (
    <div style={{ position: 'absolute', left: 0, top: 0, width: 843, height: 1084, background: '#fff', fontFamily: FONT }}>
      {PANELS.map((p) => <Panel key={p.title} cfg={p} />)}
      <Overlay />
    </div>
  );
}
